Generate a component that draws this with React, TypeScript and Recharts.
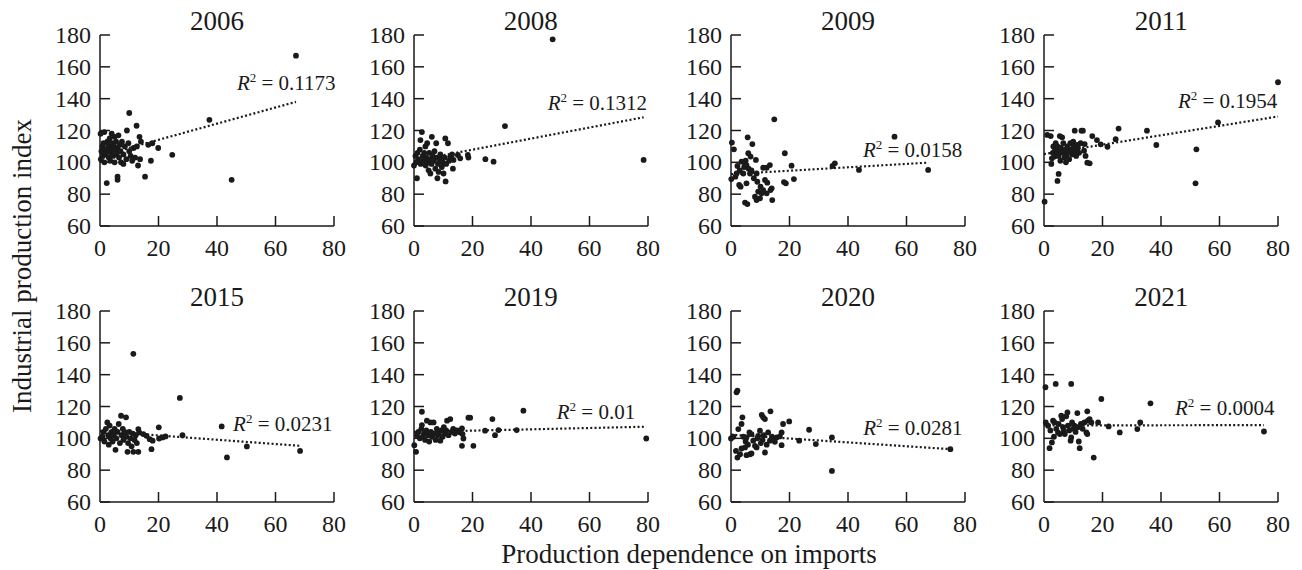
import React from "react";
import {
  ScatterChart,
  Scatter,
  XAxis,
  YAxis,
  ReferenceLine,
  ReferenceDot,
} from "recharts";

type Pt = [number, number];

const years = ["2006", "2008", "2009", "2011", "2015", "2019", "2020", "2021"];

const pts2006: Pt[] = [
  [0.2, 118], [0.3, 102], [0.5, 107], [0.8, 110], [1, 104], [1.2, 112], [1.5, 119], [1.5, 100],
  [2, 108], [2, 105], [2.3, 87], [2.5, 113], [2.8, 110], [3, 103], [3, 107], [3.3, 115],
  [3.5, 101], [3.8, 109], [4, 118], [4, 106], [4.2, 112], [4.5, 104], [4.8, 110], [5, 116],
  [5, 100], [5.2, 108], [5.5, 113], [5.7, 105], [6, 91], [6, 89], [6, 109], [6.3, 117],
  [6.5, 103], [6.8, 111], [7, 107], [7.2, 100], [7.5, 113], [8, 105], [8, 99], [8.5, 110],
  [9, 102], [9.2, 120], [9.7, 112], [10, 131], [10, 107], [10.5, 104], [11, 101], [11.5, 109],
  [12, 103], [12.5, 123], [12.6, 110], [13, 98], [13.5, 116], [13.7, 102], [14, 113], [15.4, 91],
  [16.5, 111], [17.4, 101], [17.9, 112], [19.9, 109], [24.7, 104.7], [37.4, 126.7], [45, 89], [67, 167],
];

const pts2008: Pt[] = [
  [0, 98], [0.5, 104], [0.8, 100], [1, 90], [1.2, 106], [1.5, 102], [2, 108], [2.2, 114],
  [2.3, 99], [2.7, 119], [3, 104], [3.2, 101], [3.5, 106], [3.9, 110], [4, 98], [4.2, 103],
  [4.5, 112], [4.8, 100], [5, 95], [5.2, 106], [5.5, 102], [5.6, 93], [6, 99], [6.1, 116],
  [6.4, 104], [6.8, 101], [7, 107], [7.3, 96], [7.6, 112], [7.8, 103], [8, 90], [8.2, 99],
  [8.4, 94], [8.8, 102], [9, 105], [9.5, 97], [9.8, 100], [10.1, 93], [10.5, 103], [10.7, 115],
  [10.8, 88], [11, 99], [11.6, 112], [12, 101], [12.4, 103.6], [13, 105], [13.3, 96], [13.5, 101.5],
  [15, 104.6], [15.8, 102.5], [18.4, 104.6], [18.6, 103], [24.4, 102], [27.2, 100.4], [31.1, 122.8],
  [47.4, 177.3], [78.5, 101.5],
];

const pts2009: Pt[] = [
  [0.1, 89.5], [0.3, 112.4], [1, 108.2], [1.5, 91], [1.9, 93], [2.2, 97.7], [2.8, 85.8], [3, 95],
  [3.3, 84.7], [3.6, 100.4], [4.2, 93], [4.5, 97], [4.8, 99.4], [4.8, 74.7], [5, 101], [5.3, 98.3],
  [5.3, 86.8], [5.6, 73.8], [5.7, 115.7], [5.9, 105.7], [6, 96], [6.5, 93], [6.7, 103.6], [7, 95],
  [7.3, 111.5], [7.8, 90], [8.2, 78.4], [8.5, 101.5], [8.75, 93], [8.75, 76.3], [9, 87.8], [9.3, 81.6],
  [9.9, 77.4], [10.1, 84.7], [10.5, 80.5], [11, 96.6], [11, 82.6], [11.6, 88.9], [12.2, 96.6],
  [12.2, 80.5], [12.4, 87.2], [13.3, 98.3], [13.5, 82.6], [13.9, 83.7], [14.1, 76.3], [14.8, 127],
  [18.1, 87.6], [18.4, 105.7], [18.75, 86.8], [20.7, 97.9], [21.5, 89.5], [34.7, 97.7], [35.5, 99.4],
  [43.75, 95.2], [55.9, 116.1], [67.4, 95.2],
];

const pts2011: Pt[] = [
  [0.2, 75.3], [1.1, 117.2], [2.3, 116.5], [2.5, 99], [2.7, 102.5], [3, 106], [3.2, 110], [3.6, 103.6],
  [3.8, 108], [4, 112], [4.2, 105], [4.6, 88.3], [4.6, 110], [5, 92.7], [5, 104], [5.2, 107],
  [5.4, 116.5], [5.6, 101], [5.8, 109], [6.2, 115.7], [6.4, 106], [6.6, 112], [7, 103], [7.2, 108],
  [7.5, 100], [7.8, 105], [8, 110], [8.3, 107], [8.6, 102], [9, 112], [9.3, 108], [9.6, 105],
  [10, 113], [10.2, 110], [10.5, 119.9], [10.8, 107], [11, 104], [11.3, 111], [11.6, 109], [12, 106],
  [12.5, 112], [12.8, 119.9], [13.3, 119.9], [13.7, 107.3], [13.9, 111.5], [14.2, 104], [14.8, 99.8],
  [15.6, 99.4], [16.5, 116.5], [18.1, 114], [19.4, 111.3], [21.7, 109.8], [24.5, 114.5], [25.5, 121.2],
  [35.2, 119.9], [38.4, 110.9], [51.8, 86.8], [52.1, 108.2], [59.5, 125.1], [80, 150.3],
];

const pts2015: Pt[] = [
  [0.2, 99.9], [0.8, 101], [1.2, 104], [1.5, 98], [2, 106], [2.5, 110], [2.8, 102], [3, 96],
  [3.3, 108], [3.6, 100], [4, 104], [4.3, 98], [4.7, 102], [5, 106], [5.3, 92.8], [5.6, 100],
  [6, 104], [6.4, 109], [6.8, 97], [7.2, 114.2], [7.4, 102], [7.8, 106], [8, 99], [8.4, 104],
  [8.9, 113.2], [9, 101], [9.4, 91.5], [9.6, 97], [10, 104], [10.4, 100], [10.8, 95], [11.2, 103],
  [11.4, 91.5], [11.4, 153.1], [11.8, 99], [12.2, 102], [12.6, 97], [13.1, 91.5], [13.1, 105.8],
  [13.4, 103.7], [14.8, 102.7], [15.9, 101.6], [17, 99.5], [17.6, 93.2], [18, 98.5], [20.1, 106.9],
  [20.2, 99.9], [21.4, 100.6], [22.4, 101.2], [27.3, 125.4], [28.2, 102], [41.6, 107.5], [43.4, 88],
  [50.2, 94.9], [68.4, 92.1],
];

const pts2019: Pt[] = [
  [0.1, 95.7], [0.7, 91.5], [1, 102], [1.5, 104], [2, 100], [2.5, 106], [2.7, 116.7], [2.7, 108.3],
  [3, 101], [3.4, 103], [3.8, 99], [4.2, 105], [4.4, 111.1], [4.8, 102], [5.2, 98], [5.6, 110],
  [5.8, 104], [6.2, 101], [6.7, 110], [7, 103], [7.4, 99], [7.8, 106], [8.2, 102], [8.6, 104],
  [9, 98.5], [9.4, 105], [9.8, 101], [10.2, 107], [10.6, 103], [11, 105], [11.3, 111.1], [11.8, 102],
  [12.4, 112.1], [12.8, 104], [13.4, 106], [14, 103], [14.6, 105], [15.2, 104.8], [15.8, 103.7],
  [16.4, 95.3], [16.4, 106.2], [16.6, 102.7], [16.9, 99.9], [18.6, 113], [19.2, 113], [20.3, 95.3],
  [24.3, 104.8], [26.8, 112.1], [27.7, 102], [28.9, 105.2], [35.1, 105.2], [37.4, 117.4], [79.4, 99.9],
];

const pts2020: Pt[] = [
  [0, 99.9], [0.8, 101], [1.7, 92.1], [1.9, 128.9], [2.2, 130], [2.2, 87.9], [2.5, 105.8], [3.1, 90],
  [3.6, 93.6], [3.6, 109], [3.9, 113.2], [4.2, 101], [4.8, 94.3], [5, 98], [5.3, 89.4], [5.3, 100.6],
  [5.8, 96], [6.3, 103.7], [6.5, 90], [7, 90.5], [7, 102.7], [7.6, 98.5], [8.2, 95.3], [8.75, 94.3],
  [9, 100], [9.3, 101.6], [9.9, 104.8], [10.2, 97], [10.5, 114.8], [10.8, 99], [11, 113.2], [11.2, 102],
  [11.6, 112.1], [11.6, 91.1], [12.2, 96], [12.7, 103.7], [13.3, 98.5], [13.5, 117], [14, 101],
  [14.4, 99.5], [15, 97.8], [15.6, 100.6], [16.7, 101.2], [17.3, 103.7], [17.3, 95.7], [17.8, 109],
  [19.9, 110.6], [23.3, 98.5], [26.7, 105.4], [29, 96.4], [34.5, 100.6], [34.5, 79.5], [75, 93.2],
];

const pts2021: Pt[] = [
  [0.5, 132.1], [0.6, 110], [1.4, 107.9], [1.9, 93.8], [2.2, 105], [2.7, 97.4], [3.1, 111.1], [3.4, 101],
  [3.6, 110], [4, 134.2], [4.2, 106], [4.8, 103.7], [5, 109], [5.4, 102.7], [5.9, 114.2], [6.2, 112.1],
  [6.5, 107], [6.8, 104.8], [7.1, 102.7], [7.6, 113.8], [8, 116.3], [8.2, 108], [8.6, 105], [9.1, 98.5],
  [9.3, 100.6], [9.3, 134.2], [9.6, 110], [10, 106], [10.4, 108], [10.8, 104], [11.4, 115.9], [11.6, 107],
  [11.9, 98], [12.2, 93.8], [12.6, 109], [13.2, 106], [13.8, 110], [14.5, 103.7], [14.8, 102.7],
  [14.8, 117], [15, 111.1], [15.6, 112.1], [16.2, 110], [17, 87.9], [18.5, 110], [19.6, 124.7],
  [22.1, 107.5], [25.9, 103.7], [31.9, 105.8], [32.9, 110], [36.4, 122], [75.2, 104.3],
];

const allPoints: Pt[][] = [pts2006, pts2008, pts2009, pts2011, pts2015, pts2019, pts2020, pts2021];

// trend line ends: [x0, y0, x1, y1]
const trendEnds: [number, number, number, number][] = [
  [0, 104, 67, 138],
  [0, 101, 78.5, 128.3],
  [0, 92.6, 67.4, 99.8],
  [0, 105.2, 80, 128.8],
  [0, 104.5, 68.4, 95.3],
  [0, 104, 79.4, 107.3],
  [0, 102.3, 75, 93.2],
  [0, 108.1, 75.2, 108.3],
];

const r2Values = ["0.1173", "0.1312", "0.0158", "0.1954", "0.0231", "0.01", "0.0281", "0.0004"];
// where each R² note starts (x, baseline y) in data units
const r2Anchors: Pt[] = [
  [46.8, 145.5], [45.7, 132.9], [45.1, 103.4], [45.8, 134],
  [45.5, 104.8], [48.8, 112.3], [45.2, 101.8], [44.8, 114.4],
];

const xTicks = [0, 20, 40, 60, 80];
const yTicks = [60, 80, 100, 120, 140, 160, 180];

const INK = "#1a1a1a";
const FONT = "'Liberation Serif', 'Times New Roman', serif";
const AXIS_LEFT = [100, 413.7, 731, 1044.3];
const ROW_TOP = [35, 310.5];
const PLOT_W = 234;
const PLOT_H = 191;
const Y_W = 60;
const M_TOP = 25;
const M_RIGHT = 30;
const X_H = 40;

const XTick = (p: any) => {
  const { x, y, payload } = p;
  return (
    <g>
      {payload.value !== 0 && (
        <line x1={x} x2={x} y1={y} y2={y - 10} stroke={INK} strokeWidth={1.5} />
      )}
      <text x={x} y={y + 22} textAnchor="middle" dominantBaseline="central" fontSize={24} fill={INK} fontFamily={FONT}>
        {payload.value}
      </text>
    </g>
  );
};

const YTick = (p: any) => {
  const { x, y, payload } = p;
  return (
    <g>
      <line x1={x} x2={x + 10} y1={y} y2={y} stroke={INK} strokeWidth={1.5} />
      <text x={x - 9} y={y} textAnchor="end" dominantBaseline="central" fontSize={24} fill={INK} fontFamily={FONT}>
        {payload.value}
      </text>
    </g>
  );
};

const dotShape = (p: any) => <circle cx={p.cx} cy={p.cy} r={2.9} fill={INK} />;

function Panel({ idx }: { idx: number }) {
  const col = idx % 4;
  const row = Math.floor(idx / 4);
  const data = allPoints[idx].map(([x, y]) => ({ x, y }));
  const [x0, y0, x1, y1] = trendEnds[idx];
  const [lx, ly] = r2Anchors[idx];
  const r2 = r2Values[idx];
  return (
    <div style={{ position: "absolute", left: AXIS_LEFT[col] - Y_W, top: ROW_TOP[row] - M_TOP }}>
      <ScatterChart
        width={Y_W + PLOT_W + M_RIGHT}
        height={M_TOP + PLOT_H + X_H}
        margin={{ top: M_TOP, right: M_RIGHT, bottom: 0, left: 0 }}
      >
        <XAxis
          type="number"
          dataKey="x"
          domain={[0, 80]}
          ticks={xTicks}
          interval={0}
          height={X_H}
          tickSize={0}
          tickMargin={0}
          tickLine={false}
          tick={XTick}
          axisLine={{ stroke: INK, strokeWidth: 1.5 }}
        />
        <YAxis
          type="number"
          dataKey="y"
          domain={[60, 180]}
          ticks={yTicks}
          interval={0}
          width={Y_W}
          tickSize={0}
          tickMargin={0}
          tickLine={false}
          tick={YTick}
          axisLine={{ stroke: INK, strokeWidth: 1.5 }}
        />
        <ReferenceLine
          segment={[{ x: x0, y: y0 }, { x: x1, y: y1 }]}
          stroke={INK}
          strokeWidth={2.2}
          strokeDasharray="2 2.3"
          ifOverflow="visible"
        />
        <Scatter data={data} shape={dotShape} isAnimationActive={false} />
        <ReferenceDot
          x={lx}
          y={ly}
          r={1}
          fill="none"
          stroke="none"
          ifOverflow="visible"
          label={(lp: any) => {
            const vb = lp.viewBox || {};
            const tx = (vb.x ?? 0) + (vb.width ?? 0) / 2;
            const ty = (vb.y ?? 0) + (vb.height ?? 0) / 2;
            return (
              <text x={tx} y={ty} fontSize={21} fill={INK} fontFamily={FONT}>
                <tspan fontStyle="italic">R</tspan>
                <tspan fontSize={13} dy={-8}>2</tspan>
                <tspan dy={8}>{` = ${r2}`}</tspan>
              </text>
            );
          }}
        />
      </ScatterChart>
    </div>
  );
}

export default function App() {
  return (
    <div style={{ position: "absolute", left: 0, top: 0, width: 1302, height: 570, background: "#fff" }}>
      {years.map((_, i) => (
        <Panel key={i} idx={i} />
      ))}
      <svg
        width={1302}
        height={570}
        style={{ position: "absolute", left: 0, top: 0, pointerEvents: "none" }}
      >
        {years.map((yr, i) => {
          const col = i % 4;
          const row = Math.floor(i / 4);
          return (
            <text
              key={yr}
              x={AXIS_LEFT[col] + PLOT_W / 2}
              y={row === 0 ? 21 : 297}
              textAnchor="middle"
              dominantBaseline="central"
              fontSize={27}
              fill={INK}
              fontFamily={FONT}
            >
              {yr}
            </text>
          );
        })}
        <text
          x={689}
          y={554}
          textAnchor="middle"
          dominantBaseline="central"
          fontSize={27}
          fill={INK}
          fontFamily={FONT}
        >
          Production dependence on imports
        </text>
        <text
          transform="translate(22 266) rotate(-90)"
          textAnchor="middle"
          dominantBaseline="central"
          fontSize={27}
          fill={INK}
          fontFamily={FONT}
        >
          Industrial production index
        </text>
      </svg>
    </div>
  );
}
